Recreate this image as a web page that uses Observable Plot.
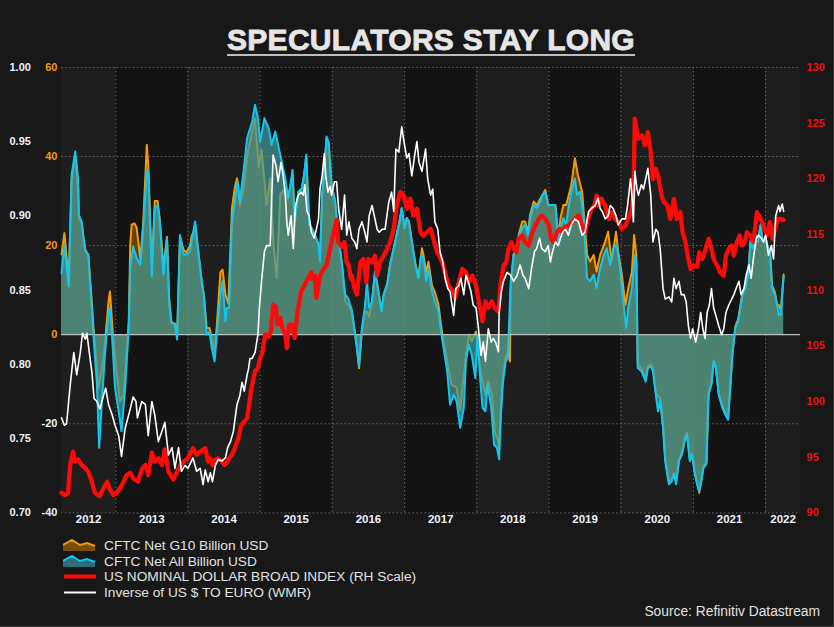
<!DOCTYPE html>
<html>
<head>
<meta charset="utf-8">
<script src="https://cdn.jsdelivr.net/npm/d3@7"></script>
<script src="https://cdn.jsdelivr.net/npm/@observablehq/plot@0.6"></script>
<style>
  html, body { margin: 0; padding: 0; background: #181818; }
  #wrap { position: relative; width: 833px; height: 626px; background: #181818; overflow: hidden;
          border-right: 1px solid #3c3c3c; border-bottom: 1px solid #3c3c3c;
          font-family: "Liberation Sans", Arial, sans-serif; }
  #title { position: absolute; left: 0; width: 862px; top: 23px; text-align: center;
           font-size: 30px; font-weight: bold; color: #e6e6e6; letter-spacing: 0.3px;
           -webkit-text-stroke: 0.8px #e6e6e6; }
  #title span { text-decoration: underline; text-decoration-thickness: 2px; text-underline-offset: 4px;
                text-decoration-color: #bdbdbd; }
  #chart { position: absolute; left: 0; top: 0; }
  #legend { position: absolute; left: 63px; top: 538px; font-size: 13.7px; color: #e2e2e2; line-height: 15.6px; }
  #legend .row { display: flex; align-items: center; height: 15.6px; }
  #legend svg { margin-right: 7px; }
  #source { position: absolute; right: 13px; top: 604px; font-size: 13.8px; color: #e2e2e2; }
</style>
</head>
<body>
<div id="wrap">
  <div id="chart"></div>
  <div id="title"><span>SPECULATORS STAY LONG</span></div>
  <div id="legend"></div>
  <div id="source">Source: Refinitiv Datastream</div>
</div>
<script>
// ---------------- DATA (decimal year, value) ----------------
const seriesNames = [
  "CFTC Net G10 Billion USD",
  "CFTC Net All Billion USD",
  "US NOMINAL DOLLAR BROAD INDEX (RH Scale)",
  "Inverse of US $ TO EURO (WMR)"
];

const cftcG10 = [
[2012.25,18],[2012.29,22.8],[2012.35,12],[2012.39,35],[2012.44,40],[2012.48,33],[2012.49,26],[2012.53,25],[2012.55,22],[2012.58,19],[2012.62,18],[2012.67,7],[2012.69,2],[2012.72,-3.7],[2012.76,-12],[2012.81,-7.5],[2012.85,-2],[2012.90,7.5],[2012.92,9.7],[2012.96,0],[2013.01,-8.2],[2013.06,-15],[2013.11,-13.5],[2013.15,-4],[2013.18,3],[2013.20,20],[2013.22,24.7],[2013.26,25],[2013.29,24],[2013.34,17],[2013.38,25],[2013.43,42.6],[2013.45,38],[2013.50,15],[2013.54,30],[2013.58,30],[2013.61,26],[2013.66,15],[2013.71,22],[2013.74,8],[2013.77,2.5],[2013.82,2.5],[2013.85,0],[2013.89,22],[2013.94,19],[2013.98,18.5],[2014.03,20],[2014.05,22],[2014.10,24],[2014.14,19],[2014.19,12],[2014.22,9],[2014.26,1.5],[2014.30,1.5],[2014.33,-1],[2014.37,-4],[2014.40,2],[2014.45,14],[2014.48,14.6],[2014.52,9],[2014.56,7],[2014.61,28.4],[2014.65,33],[2014.68,35.1],[2014.72,29],[2014.77,33],[2014.82,40],[2014.86,43.3],[2014.93,48.6],[2014.98,37.7],[2015.02,41.6],[2015.09,29.1],[2015.14,35.1],[2015.19,19.4],[2015.23,12.7],[2015.28,31.4],[2015.35,33],[2015.39,30.6],[2015.45,36],[2015.48,25.4],[2015.53,32],[2015.58,32.9],[2015.61,35.9],[2015.64,40],[2015.68,25],[2015.71,24],[2015.76,22.4],[2015.81,20.2],[2015.83,17],[2015.86,31],[2015.90,39],[2015.92,44],[2015.95,43],[2015.99,33.6],[2016.04,29.9],[2016.08,22.4],[2016.13,16.4],[2016.18,7.5],[2016.22,6.7],[2016.27,5.2],
[2016.31,1],[2016.34,-2.5],[2016.37,-7.5],[2016.41,1],[2016.45,5],[2016.48,5.2],[2016.51,4],[2016.55,7.5],[2016.59,14],[2016.63,10.5],[2016.68,5.5],[2016.71,9],[2016.76,11.5],[2016.80,16],[2016.85,19.4],[2016.89,22.4],[2016.93,25.4],[2016.96,28.4],[2017.00,24],[2017.03,26.2],[2017.06,25.4],[2017.10,21],[2017.15,16],[2017.19,13],[2017.24,19.4],[2017.26,18],[2017.30,14],[2017.33,16.4],[2017.38,11],[2017.42,9.5],[2017.47,6.7],[2017.51,1.5],[2017.54,-1.5],[2017.59,-6.0],[2017.65,-11.2],[2017.72,-11.9],[2017.77,-17],[2017.84,-6],[2017.89,0],[2017.93,-1.5],[2017.99,0.7],[2018.05,-8.2],[2018.12,-13.5],[2018.16,-10.5],[2018.21,-13.5],[2018.25,-21.7],[2018.30,-24.0],
[2018.31,-26],[2018.33,-18],[2018.36,-10],[2018.40,-5],[2018.43,-4],[2018.46,-6],[2018.47,10],[2018.51,18],[2018.56,20.5],[2018.59,23],[2018.63,25.4],[2018.67,25.4],[2018.71,23],[2018.74,27],[2018.79,29.9],[2018.83,29],[2018.88,30.5],[2018.95,32.5],[2018.99,29.1],[2019.03,29.1],[2019.09,29.1],[2019.13,22],[2019.16,26.2],[2019.20,29.1],[2019.24,29.1],[2019.31,33.6],[2019.36,39.6],[2019.40,35.9],[2019.46,32.1],[2019.50,23.9],[2019.53,17.9],[2019.57,16.4],[2019.62,17.9],[2019.66,14.2],[2019.71,17.9],[2019.78,20.9],[2019.82,23.1],[2019.87,16.4],[2019.93,23.1],[2019.96,18.7],[2020.01,13.5],[2020.06,6.7],[2020.10,10.5],[2020.15,14.2],[2020.18,22.4],[2020.21,17.9],[2020.23,-6.7],[2020.28,-7.5],
[2020.34,-10],[2020.37,-7],[2020.41,-6.7],[2020.44,-7.5],[2020.48,-13],[2020.51,-13.8],[2020.54,-14.2],[2020.58,-20.5],[2020.61,-28],[2020.66,-33],[2020.70,-32.5],[2020.73,-31],[2020.76,-33],[2020.80,-28],[2020.84,-26.5],[2020.89,-22.8],[2020.91,-22],[2020.95,-28],[2020.98,-26.5],[2021.02,-31],[2021.05,-33.2],[2021.08,-35.5],[2021.11,-32.5],[2021.14,-29.5],[2021.18,-28.7],[2021.21,-13],[2021.25,-10.8],[2021.28,-5.8],[2021.31,-7.2],[2021.35,-13.2],[2021.40,-16],[2021.44,-17.5],[2021.48,-18.7],[2021.51,-11.7],[2021.54,-4.2],[2021.58,1.8],[2021.62,3.5],[2021.65,6.5],[2021.68,9.5],[2021.72,11],[2021.76,14],[2021.79,21],[2021.82,19.5],[2021.86,22.4],[2021.89,21],[2021.93,24.5],[2021.96,21],[2022.00,21.7],[2022.03,19.7],[2022.06,19],[2022.09,11],[2022.13,9.5],[2022.16,6.7],[2022.18,6.7],[2022.21,5.5],[2022.25,13.5]
];

const cftcAll = [
[2012.25,13.8],[2012.29,20.1],[2012.35,10.8],[2012.39,35.9],[2012.44,41.1],[2012.48,35.0],[2012.49,26.9],[2012.53,25.4],[2012.55,22.4],[2012.58,18.7],[2012.62,18.0],[2012.67,6.0],[2012.69,0],[2012.74,-11.2],[2012.77,-25.4],[2012.80,-17.2],[2012.85,-4.5],[2012.90,4.5],[2012.92,6.0],[2012.95,-0.7],[2012.99,-12],[2013.04,-17.2],[2013.08,-21.7],[2013.13,-12],[2013.18,1.5],[2013.20,15],[2013.24,19.8],[2013.29,17.2],[2013.34,15.7],[2013.38,23.9],[2013.43,36.6],[2013.45,37],[2013.50,13.1],[2013.54,28.4],[2013.58,29.1],[2013.61,25.4],[2013.66,13.5],[2013.71,21.7],[2013.74,7.5],[2013.77,3],[2013.82,2.2],[2013.85,-1.1],[2013.89,22.4],[2013.94,18],[2013.98,18],[2014.03,18.7],[2014.05,20.9],[2014.10,25.4],[2014.14,19.4],[2014.19,12],[2014.22,9],[2014.26,0],[2014.30,0.7],[2014.33,-3],[2014.37,-6],[2014.40,0],[2014.45,9],[2014.48,12],[2014.52,3],[2014.54,6],[2014.57,6],[2014.61,25.4],[2014.65,29.9],[2014.69,34.4],[2014.72,29.9],[2014.77,36.6],[2014.82,44.1],[2014.86,46.3],[2014.89,47.8],[2014.93,51.6],[2014.97,48.6],[2015.00,43.3],[2015.06,48.6],[2015.12,46.3],[2015.16,42.6],[2015.21,45.6],[2015.24,43.3],[2015.29,39.6],[2015.35,35.1],[2015.39,30.6],[2015.45,37],[2015.48,25.4],[2015.53,32.1],[2015.58,32.9],[2015.61,35.9],[2015.64,40.4],[2015.68,24.7],[2015.71,23.9],[2015.76,22.4],[2015.81,20.2],[2015.83,16.4],[2015.86,31.4],[2015.90,39.6],[2015.92,44.5],[2015.95,43.3],[2015.99,33.6],[2016.04,29.9],[2016.08,22.4],[2016.13,16.4],[2016.18,9],[2016.22,8.2],[2016.27,5.6],
[2016.31,0.7],[2016.34,-3.0],[2016.37,-7.1],[2016.41,1.5],[2016.45,6.0],[2016.48,12.0],[2016.51,6.0],[2016.55,7.5],[2016.59,14.2],[2016.63,10.5],[2016.68,5.2],[2016.71,9.0],[2016.76,11.2],[2016.80,15.7],[2016.85,19.4],[2016.89,22.4],[2016.93,25.4],[2016.96,28.4],[2017.00,23.9],[2017.03,26.2],[2017.06,25.4],[2017.10,20.9],[2017.15,15.7],[2017.19,12.7],[2017.23,17.9],[2017.26,17.2],[2017.30,12.0],[2017.33,14.9],[2017.38,9.7],[2017.42,7.5],[2017.47,5.2],[2017.51,0],[2017.54,-3.0],[2017.59,-8.2],[2017.63,-15.7],[2017.68,-13.5],[2017.72,-14.9],[2017.77,-20.9],[2017.82,-16.4],[2017.85,-6.0],[2017.89,-2.2],[2017.93,-4.5],[2017.98,-9.7],[2018.01,0],[2018.05,-10.5],[2018.08,-16.4],[2018.12,-17.2],[2018.15,-11.2],[2018.20,-16.4],[2018.24,-24.7],[2018.28,-25.4],
[2018.31,-28.0],[2018.33,-19.4],[2018.36,-11.2],[2018.40,-6.0],[2018.43,-5.2],[2018.47,12.0],[2018.51,17.9],[2018.56,20.2],[2018.59,22.4],[2018.63,23.9],[2018.67,24.7],[2018.71,22.4],[2018.74,26.2],[2018.79,29.1],[2018.83,28.4],[2018.88,29.9],[2018.91,31.4],[2018.95,32.1],[2018.99,29.1],[2019.03,29.1],[2019.09,29.1],[2019.13,20.9],[2019.16,23.9],[2019.20,26.2],[2019.24,24.7],[2019.27,28.4],[2019.31,32.1],[2019.36,35.1],[2019.39,31.4],[2019.43,32.1],[2019.48,26.9],[2019.50,20.2],[2019.53,12.7],[2019.57,12.0],[2019.62,13.5],[2019.66,10.5],[2019.71,14.9],[2019.76,17.9],[2019.80,19.4],[2019.85,15.7],[2019.89,19.4],[2019.94,20.2],[2019.99,14.2],[2020.03,7.5],[2020.07,1.5],[2020.10,6.0],[2020.15,10.5],[2020.19,17.9],[2020.21,16.4],[2020.23,-7.5],[2020.28,-8.2],
[2020.34,-10.5],[2020.37,-7.5],[2020.41,-7.1],[2020.44,-8.2],[2020.48,-13.5],[2020.51,-17.2],[2020.54,-14.9],[2020.58,-20.9],[2020.61,-28.4],[2020.66,-33.6],[2020.70,-32.9],[2020.73,-31.4],[2020.76,-33.6],[2020.80,-28.4],[2020.84,-26.9],[2020.89,-23.2],[2020.91,-22.4],[2020.95,-28.4],[2020.98,-26.9],[2021.02,-31.4],[2021.05,-33.6],[2021.08,-35.1],[2021.11,-32.9],[2021.14,-29.9],[2021.18,-29.1],[2021.21,-13.5],[2021.25,-11.2],[2021.28,-6.0],[2021.31,-7.5],[2021.35,-13.5],[2021.40,-16.4],[2021.44,-17.9],[2021.48,-19.1],[2021.51,-12.0],[2021.54,-4.5],[2021.58,1.5],[2021.62,3.0],[2021.65,6.0],[2021.68,9.0],[2021.72,10.5],[2021.76,13.5],[2021.79,20.9],[2021.82,19.4],[2021.86,22.4],[2021.89,20.9],[2021.93,24.7],[2021.96,20.9],[2022.00,21.7],[2022.03,19.4],[2022.06,18.7],[2022.09,10.5],[2022.13,9.0],[2022.16,6.7],[2022.18,4.5],[2022.21,4.5],[2022.25,13.1]
];

const dollarIndex = [
[2012.25,91.8],[2012.30,91.6],[2012.34,91.8],[2012.37,94.3],[2012.41,95.5],[2012.44,94.6],[2012.48,94.8],[2012.53,94.3],[2012.58,94.0],[2012.62,93.7],[2012.67,92.8],[2012.71,91.8],[2012.78,91.5],[2012.83,92.2],[2012.88,92.8],[2012.92,92.1],[2012.97,91.6],[2013.01,91.8],[2013.08,92.4],[2013.15,93.4],[2013.20,93.6],[2013.24,93.1],[2013.31,92.8],[2013.36,93.9],[2013.41,94.3],[2013.45,93.4],[2013.50,95.4],[2013.54,94.6],[2013.59,94.9],[2013.64,94.3],[2013.68,95.7],[2013.73,93.7],[2013.80,93.0],[2013.87,94.0],[2013.94,94.6],[2014.00,94.9],[2014.07,95.8],[2014.12,95.2],[2014.17,95.5],[2014.24,95.8],
[2014.28,94.6],[2014.31,94.9],[2014.34,94.3],[2014.38,94.8],[2014.42,94.9],[2014.47,94.6],[2014.51,94.3],[2014.54,94.5],[2014.57,94.9],[2014.61,95.2],[2014.65,95.8],[2014.70,96.7],[2014.74,97.9],[2014.78,98.2],[2014.82,98.5],[2014.85,99.8],[2014.88,101.2],[2014.91,102.1],[2014.93,102.7],[2014.97,103.0],[2015.00,103.9],[2015.03,104.3],[2015.07,106.0],[2015.12,105.8],[2015.15,106.3],[2015.18,108.7],[2015.22,108.5],[2015.24,106.9],[2015.28,107.5],[2015.31,106.6],[2015.35,106.0],[2015.37,104.8],[2015.40,106.9],[2015.44,106.9],[2015.48,105.7],[2015.52,108.1],[2015.57,109.9],[2015.61,110.4],[2015.66,111.0],[2015.71,111.6],[2015.72,111.0],[2015.76,111.3],[2015.78,109.3],[2015.83,111.3],[2015.88,111.9],[2015.92,112.2],[2015.97,113.7],[2016.01,114.9],[2016.06,116.3],[2016.08,114.3],[2016.13,113.9],[2016.17,114.3],[2016.20,112.5],[2016.23,112.2],[2016.26,111.0],
[2016.27,111.3],[2016.31,110.1],[2016.34,109.6],[2016.39,112.5],[2016.43,112.8],[2016.47,110.7],[2016.50,112.8],[2016.55,112.5],[2016.59,113.1],[2016.62,111.3],[2016.66,112.5],[2016.71,113.1],[2016.76,113.7],[2016.80,114.3],[2016.85,115.5],[2016.89,117.6],[2016.94,118.8],[2016.99,118.5],[2017.03,117.3],[2017.08,118.2],[2017.12,116.7],[2017.17,117.3],[2017.22,115.2],[2017.26,114.9],[2017.31,115.2],[2017.36,115.5],[2017.40,114.6],[2017.45,113.4],[2017.48,113.1],[2017.52,112.5],[2017.56,111.6],[2017.61,110.4],[2017.65,110.1],[2017.70,109.3],[2017.75,110.7],[2017.80,111.9],[2017.85,111.6],[2017.89,110.7],[2017.94,111.3],[2017.99,110.4],[2018.02,109.3],[2018.08,107.2],[2018.12,109.0],[2018.16,108.4],[2018.21,109.0],[2018.25,108.4],[2018.30,108.1],[2018.33,110.5],
[2018.37,112.2],[2018.41,112.5],[2018.44,113.7],[2018.48,114.3],[2018.51,113.7],[2018.55,113.4],[2018.58,114.6],[2018.63,114.9],[2018.67,114.3],[2018.72,114.0],[2018.77,115.2],[2018.81,115.8],[2018.86,116.4],[2018.90,116.7],[2018.95,116.4],[2019.00,115.8],[2019.03,114.6],[2019.07,114.3],[2019.11,115.2],[2019.15,115.5],[2019.18,115.2],[2019.23,115.7],[2019.27,115.8],[2019.32,116.1],[2019.36,116.4],[2019.41,116.7],[2019.46,115.8],[2019.50,115.2],[2019.54,116.4],[2019.59,117.3],[2019.63,117.6],[2019.66,118.5],[2019.69,117.6],[2019.73,118.2],[2019.78,117.6],[2019.83,116.4],[2019.87,117.0],[2019.92,116.4],[2019.96,116.1],[2020.01,115.5],[2020.06,115.8],[2020.10,116.4],[2020.15,117.3],[2020.17,118.5],[2020.19,125.4],[2020.22,124.2],[2020.24,123.6],[2020.29,123.9],[2020.33,123.0],
[2020.37,124.2],[2020.41,122.4],[2020.44,120.0],[2020.48,120.9],[2020.51,120.3],[2020.56,118.5],[2020.59,117.9],[2020.64,117.6],[2020.68,116.4],[2020.73,118.2],[2020.77,116.4],[2020.82,117.0],[2020.85,115.2],[2020.89,114.3],[2020.93,112.8],[2020.96,111.9],[2021.00,112.2],[2021.05,112.1],[2021.08,113.4],[2021.12,112.8],[2021.17,113.7],[2021.21,114.6],[2021.25,113.7],[2021.28,112.8],[2021.33,112.2],[2021.37,111.6],[2021.42,111.3],[2021.45,113.1],[2021.49,113.7],[2021.53,114.0],[2021.56,113.1],[2021.60,114.3],[2021.64,114.9],[2021.67,114.0],[2021.71,114.3],[2021.74,115.2],[2021.79,114.9],[2021.83,114.3],[2021.88,117.0],[2021.93,116.4],[2021.97,115.8],[2022.02,114.9],[2022.06,116.1],[2022.10,114.6],[2022.13,115.5],[2022.17,116.4],[2022.20,116.4],[2022.25,116.3]
];

const usdToEuroInverse = [
[2012.25,0.764],[2012.29,0.759],[2012.32,0.760],[2012.37,0.786],[2012.42,0.808],[2012.46,0.793],[2012.51,0.808],[2012.54,0.821],[2012.58,0.817],[2012.60,0.821],[2012.65,0.802],[2012.67,0.795],[2012.70,0.777],[2012.74,0.775],[2012.78,0.770],[2012.83,0.779],[2012.86,0.784],[2012.90,0.773],[2012.95,0.766],[2012.99,0.759],[2013.04,0.752],[2013.08,0.738],[2013.13,0.757],[2013.19,0.768],[2013.24,0.778],[2013.28,0.775],[2013.30,0.764],[2013.36,0.775],[2013.41,0.773],[2013.45,0.752],[2013.50,0.775],[2013.54,0.766],[2013.59,0.748],[2013.64,0.755],[2013.68,0.761],[2013.73,0.739],[2013.78,0.744],[2013.82,0.730],[2013.87,0.744],[2013.91,0.728],[2013.96,0.732],[2014.00,0.730],[2014.07,0.737],[2014.12,0.728],[2014.17,0.730],[2014.21,0.719],[2014.24,0.729],
[2014.28,0.721],[2014.31,0.727],[2014.34,0.721],[2014.38,0.732],[2014.42,0.736],[2014.47,0.735],[2014.52,0.737],[2014.55,0.744],[2014.59,0.748],[2014.63,0.755],[2014.68,0.773],[2014.72,0.779],[2014.75,0.788],[2014.78,0.782],[2014.82,0.793],[2014.84,0.797],[2014.86,0.804],[2014.89,0.804],[2014.93,0.808],[2014.97,0.820],[2014.99,0.838],[2015.02,0.856],[2015.06,0.876],[2015.09,0.880],[2015.14,0.880],[2015.18,0.941],[2015.22,0.934],[2015.25,0.923],[2015.29,0.936],[2015.32,0.927],[2015.35,0.914],[2015.37,0.896],[2015.39,0.887],[2015.43,0.900],[2015.46,0.878],[2015.49,0.907],[2015.53,0.914],[2015.57,0.916],[2015.60,0.914],[2015.62,0.921],[2015.65,0.903],[2015.68,0.900],[2015.71,0.889],[2015.75,0.885],[2015.78,0.891],[2015.81,0.898],[2015.83,0.918],[2015.86,0.927],[2015.89,0.942],[2015.91,0.927],[2015.94,0.916],[2015.97,0.920],[2015.99,0.914],[2016.03,0.923],[2016.06,0.923],[2016.09,0.904],[2016.13,0.891],[2016.17,0.914],[2016.20,0.887],[2016.23,0.896],[2016.27,0.885],
[2016.31,0.8825],[2016.34,0.878],[2016.37,0.891],[2016.41,0.896],[2016.45,0.889],[2016.48,0.8825],[2016.51,0.900],[2016.55,0.907],[2016.59,0.898],[2016.62,0.891],[2016.65,0.889],[2016.69,0.891],[2016.73,0.891],[2016.78,0.909],[2016.82,0.916],[2016.85,0.903],[2016.88,0.945],[2016.92,0.943],[2016.96,0.960],[2017.00,0.9475],[2017.03,0.939],[2017.06,0.942],[2017.10,0.927],[2017.14,0.941],[2017.17,0.950],[2017.20,0.936],[2017.24,0.930],[2017.29,0.945],[2017.32,0.925],[2017.36,0.914],[2017.39,0.918],[2017.42,0.896],[2017.46,0.891],[2017.49,0.876],[2017.53,0.869],[2017.56,0.858],[2017.60,0.851],[2017.63,0.849],[2017.68,0.833],[2017.71,0.851],[2017.75,0.853],[2017.78,0.858],[2017.82,0.847],[2017.85,0.860],[2017.88,0.856],[2017.92,0.849],[2017.95,0.840],[2017.99,0.838],[2018.02,0.826],[2018.06,0.806],[2018.09,0.815],[2018.12,0.802],[2018.16,0.824],[2018.20,0.815],[2018.23,0.8175],[2018.26,0.815],[2018.30,0.8085],
[2018.31,0.835],[2018.34,0.849],[2018.37,0.856],[2018.42,0.862],[2018.47,0.860],[2018.51,0.856],[2018.56,0.860],[2018.60,0.867],[2018.64,0.860],[2018.67,0.858],[2018.72,0.851],[2018.76,0.865],[2018.80,0.876],[2018.83,0.878],[2018.87,0.885],[2018.90,0.878],[2018.95,0.876],[2018.99,0.880],[2019.02,0.869],[2019.05,0.876],[2019.09,0.8825],[2019.13,0.880],[2019.16,0.885],[2019.19,0.889],[2019.23,0.891],[2019.27,0.887],[2019.31,0.894],[2019.36,0.898],[2019.41,0.896],[2019.46,0.887],[2019.50,0.889],[2019.55,0.903],[2019.59,0.905],[2019.64,0.907],[2019.68,0.912],[2019.71,0.905],[2019.74,0.903],[2019.78,0.898],[2019.82,0.900],[2019.85,0.907],[2019.89,0.905],[2019.93,0.900],[2019.96,0.894],[2020.01,0.898],[2020.06,0.898],[2020.09,0.907],[2020.13,0.925],[2020.15,0.914],[2020.17,0.896],[2020.19,0.930],[2020.22,0.918],[2020.24,0.914],[2020.28,0.921],[2020.31,0.918],
[2020.34,0.925],[2020.37,0.932],[2020.41,0.914],[2020.44,0.8825],[2020.48,0.891],[2020.51,0.889],[2020.54,0.878],[2020.58,0.851],[2020.61,0.844],[2020.66,0.8455],[2020.70,0.842],[2020.73,0.858],[2020.76,0.851],[2020.80,0.856],[2020.83,0.847],[2020.87,0.847],[2020.90,0.842],[2020.93,0.826],[2020.96,0.8175],[2020.99,0.824],[2021.03,0.815],[2021.07,0.824],[2021.10,0.835],[2021.13,0.824],[2021.16,0.8175],[2021.19,0.835],[2021.22,0.840],[2021.25,0.851],[2021.28,0.838],[2021.31,0.833],[2021.35,0.826],[2021.39,0.820],[2021.42,0.824],[2021.45,0.835],[2021.49,0.840],[2021.53,0.844],[2021.56,0.847],[2021.59,0.851],[2021.63,0.856],[2021.66,0.847],[2021.70,0.851],[2021.73,0.860],[2021.77,0.867],[2021.80,0.858],[2021.83,0.871],[2021.87,0.885],[2021.90,0.887],[2021.94,0.885],[2021.97,0.8825],[2022.00,0.887],[2022.04,0.8735],[2022.08,0.880],[2022.11,0.871],[2022.14,0.900],[2022.18,0.907],[2022.20,0.903],[2022.23,0.908],[2022.25,0.903]
];

// axis tick labels
const cftcTicks = [60, 40, 20, 0, -20, -40];
const euroTicks = [1.00, 0.95, 0.90, 0.85, 0.80, 0.75, 0.70];
const dollarTicks = [130, 125, 120, 115, 110, 105, 100, 95, 90];
const years = [2012, 2013, 2014, 2015, 2016, 2017, 2018, 2019, 2020, 2021, 2022];
const xDomain = [2012.249, 2022.484];

// ---------------- helpers ----------------
function toDate(t) {
  const y = Math.floor(t);
  const a = Date.UTC(y, 0, 1), b = Date.UTC(y + 1, 0, 1);
  return new Date(a + (t - y) * (b - a));
}
// secondary axes mapped onto the CFTC (-40..60) scale
const cftcDom = [-40, 60], euroDom = [0.70, 1.00], dollarDom = [90, 130];
const fromEuro = v => cftcDom[0] + (v - euroDom[0]) / (euroDom[1] - euroDom[0]) * (cftcDom[1] - cftcDom[0]);
const fromDollar = v => cftcDom[0] + (v - dollarDom[0]) / (dollarDom[1] - dollarDom[0]) * (cftcDom[1] - cftcDom[0]);

const g10 = cftcG10.map(([t, v]) => ({date: toDate(t), v}));
const all = cftcAll.map(([t, v]) => ({date: toDate(t), v}));
const dollar = dollarIndex.map(([t, v]) => ({date: toDate(t), v: fromDollar(v)}));
const euro = usdToEuroInverse.map(([t, v]) => ({date: toDate(t), v: fromEuro(v)}));

const d0 = toDate(xDomain[0]), d1 = toDate(xDomain[1]);
const yearSpans = years.map(y => ({
  year: y,
  x1: new Date(Math.max(+d0, Date.UTC(y, 0, 1))),
  x2: new Date(Math.min(+d1, Date.UTC(y + 1, 0, 1)))
}));
const yearStarts = years.slice(1).map(y => new Date(Date.UTC(y, 0, 1)));
const labelPos = yearSpans.map(s => ({year: s.year, date: new Date((+s.x1 + +s.x2) / 2)}));

const ORANGE = "#f39a0c", CYAN = "#12c6f0", RED = "#ff0a0a";
const gridStyle = {stroke: "#6a6a6a", strokeDasharray: "1.5,2.5", strokeWidth: 1};

const chart = Plot.plot({
  width: 834,
  height: 540,
  marginTop: 67,
  marginBottom: 27,
  marginLeft: 61,
  marginRight: 33,
  style: {background: "transparent", fontFamily: "Liberation Sans, Arial, sans-serif", overflow: "visible"},
  x: {type: "utc", domain: [d0, d1], axis: null},
  y: {domain: cftcDom, axis: null},
  marks: [
    Plot.rect(yearSpans, {x1: "x1", x2: "x2", fill: d => d.year % 2 === 0 ? "#1e1e1e" : "#141414"}),
    Plot.ruleX(yearStarts, gridStyle),
    Plot.ruleY([60, 40, 20, -20, -40], gridStyle),
    Plot.areaY(g10, {x: "date", y: "v", fill: "#b07000", fillOpacity: 0.5, curve: "linear"}),
    Plot.line(g10, {x: "date", y: "v", stroke: ORANGE, strokeWidth: 2}),
    Plot.areaY(all, {x: "date", y: "v", fill: "#449b98", fillOpacity: 0.72, curve: "linear"}),
    Plot.ruleY([0], {stroke: "#b8c0c0", strokeWidth: 1.2}),
    Plot.line(all, {x: "date", y: "v", stroke: CYAN, strokeWidth: 2}),
    Plot.line(dollar, {x: "date", y: "v", stroke: RED, strokeWidth: 4.3, strokeLinejoin: "round"}),
    Plot.line(euro, {x: "date", y: "v", stroke: "#ffffff", strokeWidth: 1.6}),
    // axes
    Plot.text(cftcTicks, {y: d => d, frameAnchor: "left", dx: -4, textAnchor: "end", text: d => String(d),
      fill: d => d < 0 ? "#eef2ff" : "#f39a1e", fontSize: 11, fontWeight: "bold"}),
    Plot.text(euroTicks, {y: d => fromEuro(d), frameAnchor: "left", dx: -52, textAnchor: "start",
      text: d => d.toFixed(2), fill: "#eef2ff", fontSize: 11, fontWeight: "bold"}),
    Plot.text(dollarTicks, {y: d => fromDollar(d), frameAnchor: "right", dx: 6, textAnchor: "start",
      text: d => String(d), fill: "#ee1111", fontSize: 11, fontWeight: "bold"}),
    Plot.text(labelPos, {x: "date", frameAnchor: "bottom", dy: 10, text: d => String(d.year),
      fill: "#eef2ff", fontSize: 11.5, fontWeight: "bold"})
  ]
});
document.getElementById("chart").appendChild(chart);

// ---------------- legend ----------------
const legend = document.getElementById("legend");
const mountain = "0,12 0,6 9,1 17,6 24,4 32,7 32,12";
const ridge = "0,6 9,1 17,6 24,4 32,7";
const swatches = [
  `<svg width="34" height="13"><polygon points="${mountain}" fill="#7a4e08"/><polyline points="${ridge}" fill="none" stroke="${ORANGE}" stroke-width="2"/></svg>`,
  `<svg width="34" height="13"><polygon points="${mountain}" fill="#2e6e78"/><polyline points="${ridge}" fill="none" stroke="${CYAN}" stroke-width="2"/></svg>`,
  `<svg width="34" height="13"><line x1="1" x2="33" y1="6.5" y2="6.5" stroke="${RED}" stroke-width="4"/></svg>`,
  `<svg width="34" height="13"><line x1="1" x2="33" y1="6.5" y2="6.5" stroke="#ffffff" stroke-width="2"/></svg>`
];
seriesNames.forEach((name, i) => {
  const row = document.createElement("div");
  row.className = "row";
  row.innerHTML = swatches[i] + `<span>${name}</span>`;
  legend.appendChild(row);
});
</script>
</body>
</html>
